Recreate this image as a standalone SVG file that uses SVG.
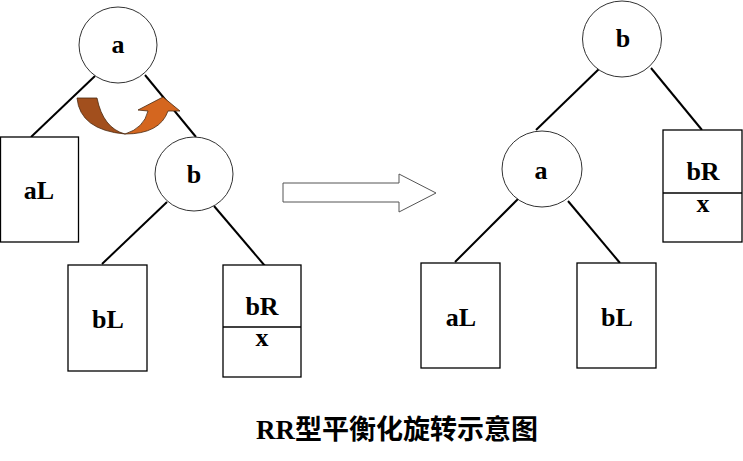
<svg xmlns="http://www.w3.org/2000/svg" width="743" height="461" viewBox="0 0 743 461">
<style>
.node{fill:#fff;stroke:#333;stroke-width:1}
.box{fill:#fff;stroke:#000;stroke-width:1.3}
.div{stroke:#000;stroke-width:1.3}
.edge{stroke:#000;stroke-width:2;fill:none}
.lbl{font-family:"Liberation Serif","Times New Roman",serif;font-weight:bold;font-size:26px;text-anchor:middle;fill:#000}
.title{font-family:"Liberation Serif","Noto Sans CJK SC",serif;font-weight:bold;font-size:27px;text-anchor:middle;fill:#000}
</style>
<rect width="743" height="461" fill="#fff"/>
<g id="connectors">
<line class="edge" x1="95" y1="76" x2="31" y2="137"/>
<line class="edge" x1="145" y1="75" x2="196" y2="137"/>
<line class="edge" x1="167" y1="202" x2="102" y2="264"/>
<line class="edge" x1="214" y1="206" x2="265" y2="266"/>
<line class="edge" x1="600" y1="68" x2="536" y2="130"/>
<line class="edge" x1="651" y1="68" x2="702" y2="130"/>
<line class="edge" x1="518" y1="199" x2="455" y2="262"/>
<line class="edge" x1="568" y1="201" x2="620" y2="263"/>
</g>
<g id="rotate-arrow" stroke="#4a2a10" stroke-width="0.8">
<path fill="#A24F1D" d="M77,98 L97,98 Q103,128 125,134 Q80,130 77,98 Z"/>
<path fill="#D4661F" d="M125,134 Q144,128 148,111 L138,110 L163,97 L180,111 L168,111 Q160,134 125,134 Z"/>
</g>
<g id="big-arrow">
<polygon points="283,183 399,183 399,174 436,193 399,212 399,202 283,202" fill="#fff" stroke="#555" stroke-width="1"/>
</g>
<g id="L-a"><ellipse class="node" cx="118" cy="45" rx="39" ry="38"/><text class="lbl" x="118" y="53">a</text></g>
<g id="L-aL"><rect class="box" x="0.5" y="137" width="78" height="105"/><text class="lbl" x="39" y="199">aL</text></g>
<g id="L-b"><ellipse class="node" cx="194" cy="174" rx="39" ry="37"/><text class="lbl" x="194" y="183">b</text></g>
<g id="L-bL"><rect class="box" x="68" y="265" width="79" height="106"/><text class="lbl" x="108" y="328">bL</text></g>
<g id="L-bR"><rect class="box" x="223" y="265" width="78" height="112"/><line class="div" x1="223" y1="327" x2="301" y2="327"/><text class="lbl" x="262" y="315">bR</text><text class="lbl" x="262" y="346">x</text></g>
<g id="R-b"><ellipse class="node" cx="622" cy="39" rx="39.5" ry="38"/><text class="lbl" x="623" y="47">b</text></g>
<g id="R-a"><ellipse class="node" cx="542" cy="169" rx="40" ry="38"/><text class="lbl" x="541" y="179">a</text></g>
<g id="R-bR"><rect class="box" x="663" y="130" width="79" height="112"/><line class="div" x1="663" y1="193" x2="742" y2="193"/><text class="lbl" x="703" y="180">bR</text><text class="lbl" x="703" y="212">x</text></g>
<g id="R-aL"><rect class="box" x="421" y="263" width="79" height="105"/><text class="lbl" x="461" y="326">aL</text></g>
<g id="R-bL"><rect class="box" x="577" y="263" width="79" height="105"/><text class="lbl" x="617" y="326">bL</text></g>
<text class="title" x="397" y="439">RR型平衡化旋转示意图</text>
</svg>
